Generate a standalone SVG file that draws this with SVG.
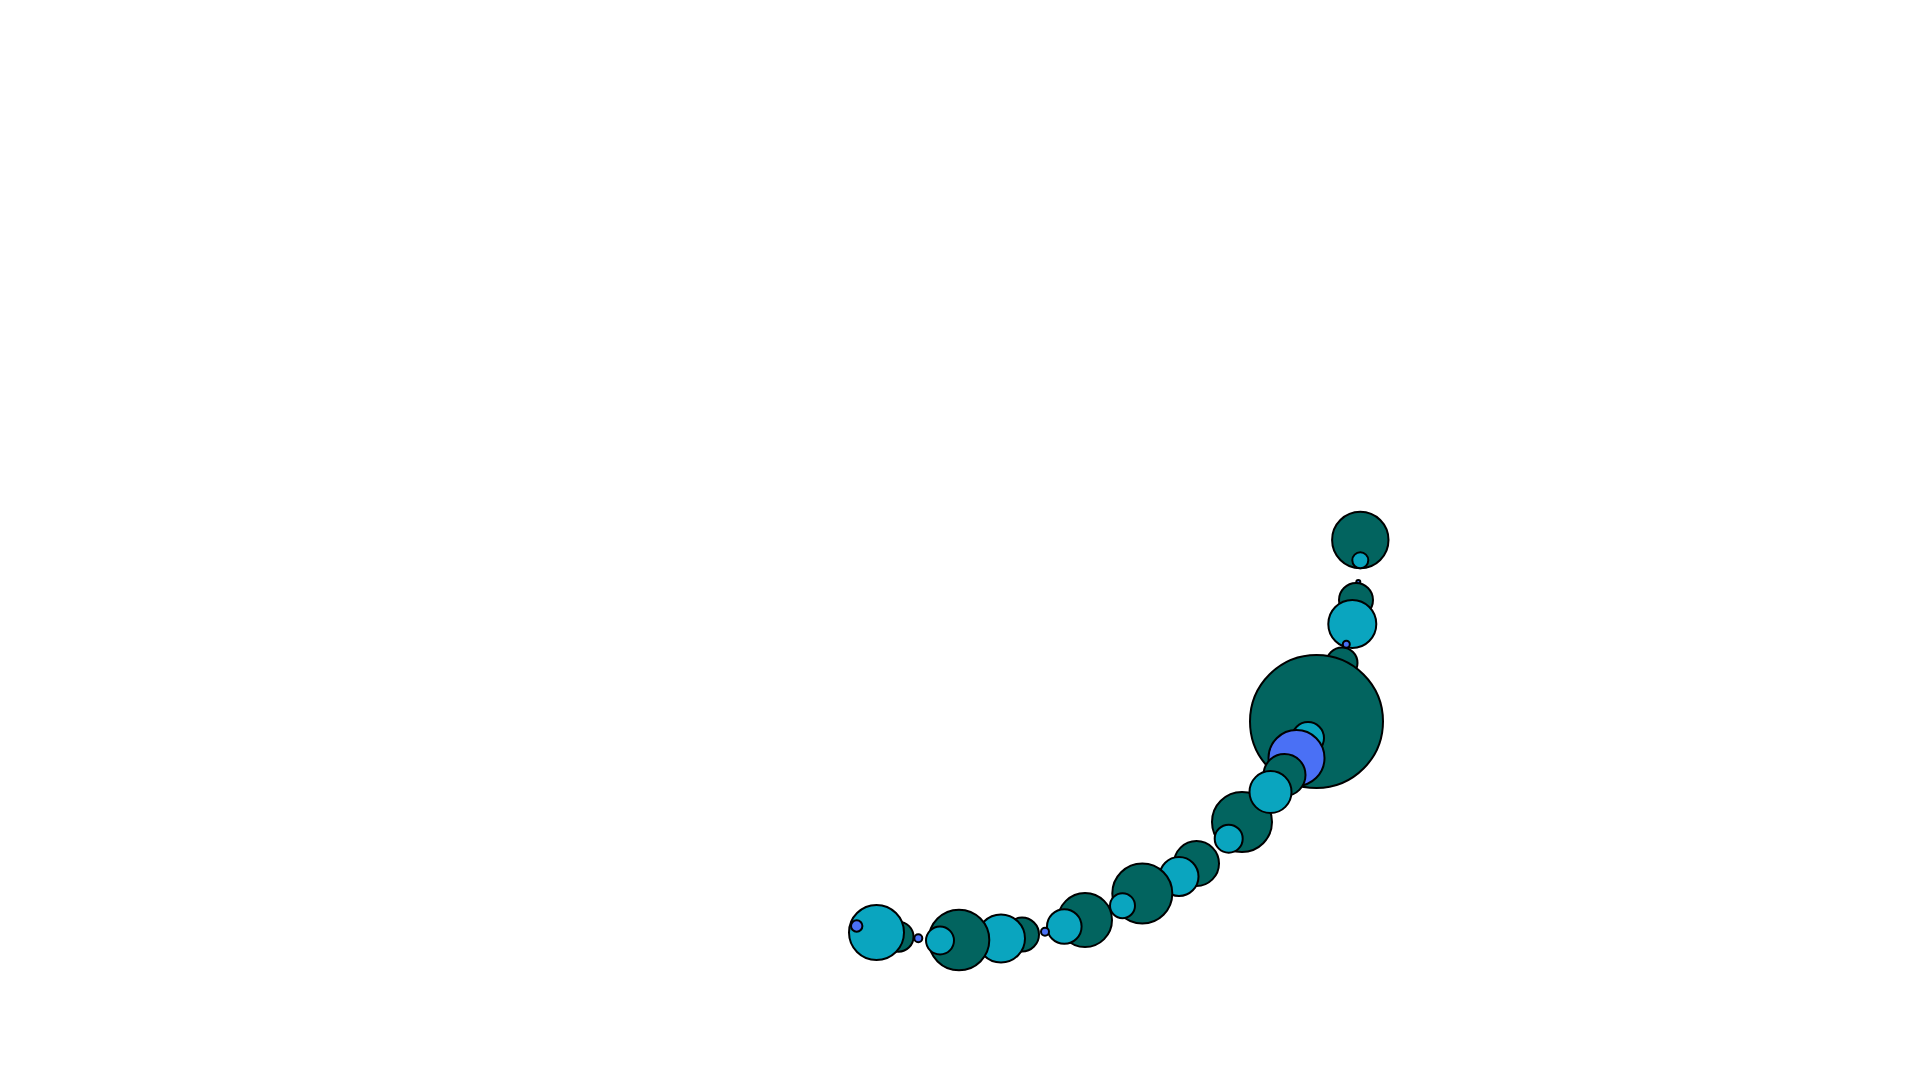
<svg xmlns="http://www.w3.org/2000/svg" width="1920" height="1080" viewBox="0 0 1920 1080">
<style>
circle{stroke:#000;stroke-width:2}
.d{fill:#02645f}
.c{fill:#0aa5bf}
.b{fill:#4a70f5}
</style>
<rect width="1920" height="1080" fill="#fff"/>
<g id="nodes">
<circle id="n1" class="d" cx="1342" cy="663" r="15.5"/>
<circle id="n2" class="d" cx="1316.5" cy="721.5" r="66.5"/>
<circle id="n3" class="c" cx="1308" cy="738" r="16"/>
<circle id="n4" class="b" cx="1296.5" cy="758" r="28"/>
<circle id="n5" class="d" cx="1284.5" cy="775" r="21"/>
<circle id="n7" class="d" cx="1242" cy="822" r="30"/>
<circle id="n6" class="c" cx="1270.5" cy="792" r="21"/>
<circle id="n8" class="c" cx="1228.7" cy="838.7" r="14"/>
<circle id="n9" class="d" cx="1196.5" cy="863.5" r="22.5"/>
<circle id="n11" class="c" cx="1179" cy="876.5" r="19.5"/>
<circle id="n10" class="d" cx="1142.3" cy="893.5" r="30"/>
<circle id="n12" class="c" cx="1122.5" cy="905.7" r="12.5"/>
<circle id="n13" class="d" cx="1085" cy="920" r="27"/>
<circle id="n14" class="c" cx="1064.3" cy="926.5" r="17.3"/>
<circle id="n15" class="b" cx="1045" cy="931.7" r="4"/>
<circle id="n16" class="d" cx="1022" cy="934.5" r="17"/>
<circle id="n17" class="c" cx="1001" cy="938.5" r="24"/>
<circle id="n18" class="d" cx="959" cy="940" r="30.3"/>
<circle id="n19" class="c" cx="940" cy="940.5" r="14"/>
<circle id="n20" class="b" cx="918.3" cy="938.3" r="4"/>
<circle id="n21" class="d" cx="898.5" cy="936.7" r="15"/>
<circle id="n22" class="c" cx="876.5" cy="932.5" r="27.5"/>
<circle id="n23" class="b" cx="856.7" cy="926" r="5.7"/>
<circle id="n24" class="d" cx="1360.3" cy="540" r="28.2"/>
<circle id="n25" class="c" cx="1360.3" cy="560.3" r="8"/>
<circle id="n26" class="b" cx="1358.3" cy="582" r="2"/>
<circle id="n27" class="d" cx="1356" cy="600" r="17"/>
<circle id="n28" class="c" cx="1352.3" cy="624" r="24"/>
<circle id="n29" class="b" cx="1346.3" cy="644.3" r="3.5"/>
</g>
<g id="connectors"/>
</svg>
